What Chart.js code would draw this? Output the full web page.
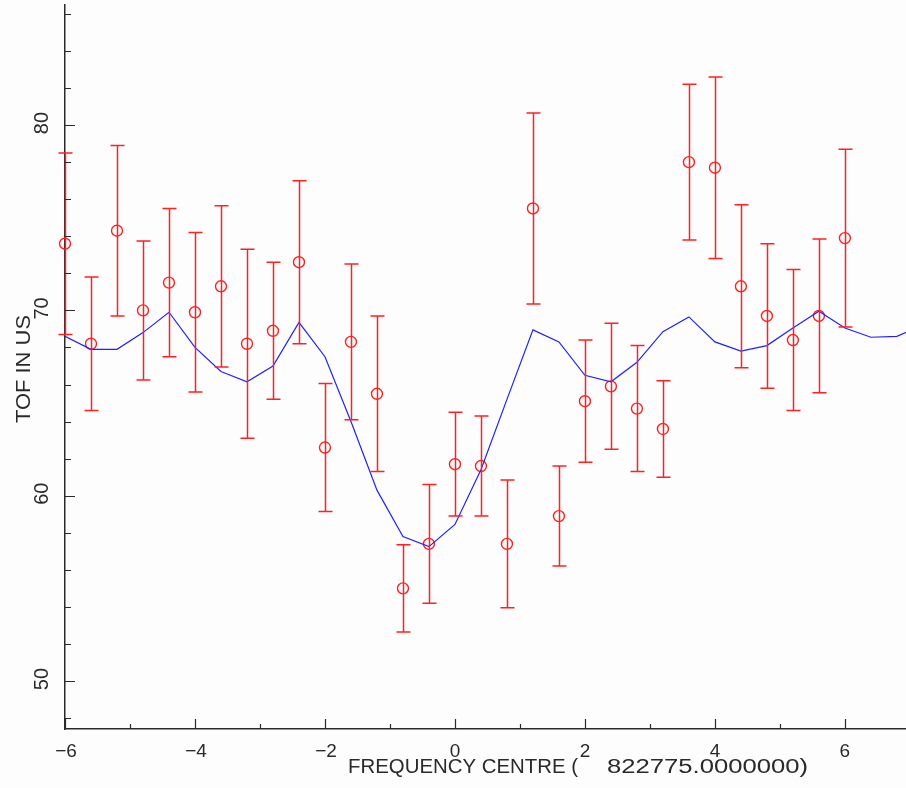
<!DOCTYPE html>
<html>
<head>
<meta charset="utf-8">
<title>TOF vs frequency</title>
<script src="https://cdn.jsdelivr.net/npm/chart.js@4.4.1/dist/chart.umd.min.js"></script>
<style>
  html, body { margin: 0; padding: 0; background: #fdfdfd; }
  #wrap { width: 906px; height: 788px; }
</style>
</head>
<body>
<div id="wrap"><canvas id="tofChart" width="906" height="788"></canvas></div>
<script>
'use strict';

// measured points (frequency offset, TOF, error)
let freq = [-6, -5.6, -5.2, -4.8, -4.4, -4, -3.6, -3.2, -2.8, -2.4, -2, -1.6, -1.2, -0.8, -0.4,
  0, 0.4, 0.8, 1.2, 1.6, 2, 2.4, 2.8, 3.2, 3.6, 4, 4.4, 4.8, 5.2, 5.6, 6];
let tof = [73.6, 68.2, 74.3, 70.0, 71.5, 69.9, 71.3, 68.2, 68.9, 72.6, 62.6, 68.3, 65.5, 55.0, 57.4,
  61.7, 61.6, 57.4, 75.5, 58.9, 65.1, 65.9, 64.7, 63.6, 78.0, 77.7, 71.3, 69.7, 68.4, 69.7, 73.9];
let err = [4.9, 3.6, 4.6, 3.75, 4.0, 4.3, 4.35, 5.1, 3.7, 4.4, 3.45, 4.2, 4.2, 2.35, 3.2,
  2.8, 2.7, 3.45, 5.15, 2.7, 3.3, 3.4, 3.4, 2.6, 4.2, 4.9, 4.4, 3.9, 3.8, 4.15, 4.8];

// fitted curve
let fitX = [-6, -5.6, -5.2, -4.8, -4.4, -4, -3.6, -3.2, -2.8, -2.4, -2, -1.6, -1.2, -0.8, -0.4,
  0, 0.4, 0.8, 1.2, 1.6, 2, 2.4, 2.8, 3.2, 3.6, 4, 4.4, 4.8, 5.2, 5.6, 6, 6.4, 6.8, 7.2];
let fitY = [68.6, 67.9, 67.9, 68.8, 69.9, 68.0, 66.7, 66.15, 67.0, 69.35, 67.5, 64.0, 60.3, 57.8, 57.25,
  58.45, 61.4, 65.2, 68.95, 68.3, 66.5, 66.15, 67.2, 68.85, 69.65, 68.3, 67.8, 68.1, 69.05, 69.95, 69.05, 68.55, 68.6, 69.2];

// axis ticks
let xMajor = [-6, -4, -2, 0, 2, 4, 6];
let xMinor = [-5, -3, -1, 1, 3, 5];
let yMajor = [50, 60, 70, 80];
let yMinor = [48, 52, 54, 56, 58, 62, 64, 66, 68, 72, 74, 76, 78, 82, 84, 86];

const xTitle = 'FREQUENCY CENTRE (';
const xTitle2 = '822775.0000000)';
const yTitle = 'TOF IN US';
const font = '"Liberation Sans", Arial, sans-serif';
const inkColor = '#2a2a2a';

let points = [];
for (let i = 0; i < freq.length; i++) {
  points.push({ x: freq[i], y: tof[i] });
}
let fitLine = [];
for (let i = 0; i < fitX.length; i++) {
  fitLine.push({ x: fitX[i], y: fitY[i] });
}

// draws text squeezed/stretched to a given width, starting at x
function fitText(ctx, text, x, y, width) {
  let w = ctx.measureText(text).width;
  ctx.save();
  ctx.translate(x, y);
  ctx.scale(width / w, 1);
  ctx.fillText(text, 0, 0);
  ctx.restore();
}

// vertical error bars with caps
const errorBars = {
  id: 'errorBars',
  afterDatasetsDraw(chart) {
    const { ctx, scales: { x, y } } = chart;
    ctx.save();
    ctx.strokeStyle = '#ff2020';
    ctx.lineWidth = 1.5;
    for (let i = 0; i < freq.length; i++) {
      let px = Math.round(x.getPixelForValue(freq[i])) + 0.5;
      let top = y.getPixelForValue(tof[i] + err[i]);
      let bot = y.getPixelForValue(tof[i] - err[i]);
      ctx.beginPath();
      ctx.moveTo(px, top);
      ctx.lineTo(px, bot);
      ctx.moveTo(px - 7, top);
      ctx.lineTo(px + 7, top);
      ctx.moveTo(px - 7, bot);
      ctx.lineTo(px + 7, bot);
      ctx.stroke();
    }
    ctx.restore();
  }
};

// inward ticks, rotated y labels and axis titles
const axisDecor = {
  id: 'axisDecor',
  afterDraw(chart) {
    const { ctx, scales: { x, y }, chartArea } = chart;
    const left = chartArea.left;
    const bottom = chartArea.bottom;
    ctx.save();
    ctx.strokeStyle = inkColor;
    ctx.fillStyle = inkColor;
    ctx.lineWidth = 1.2;
    ctx.beginPath();
    yMajor.forEach(v => {
      let py = Math.round(y.getPixelForValue(v)) + 0.5;
      ctx.moveTo(left, py); ctx.lineTo(left + 10, py);
    });
    yMinor.forEach(v => {
      let py = Math.round(y.getPixelForValue(v)) + 0.5;
      ctx.moveTo(left, py); ctx.lineTo(left + 6, py);
    });
    xMajor.forEach(v => {
      let px = Math.round(x.getPixelForValue(v)) + 0.5;
      ctx.moveTo(px, bottom); ctx.lineTo(px, bottom - 10);
    });
    xMinor.forEach(v => {
      let px = Math.round(x.getPixelForValue(v)) + 0.5;
      ctx.moveTo(px, bottom); ctx.lineTo(px, bottom - 5);
    });
    ctx.stroke();

    // y tick labels read bottom to top
    ctx.font = '20px ' + font;
    ctx.textAlign = 'center';
    ctx.textBaseline = 'middle';
    yMajor.forEach(v => {
      let py = y.getPixelForValue(v);
      ctx.save();
      ctx.translate(42, py - 2);
      ctx.rotate(-Math.PI / 2);
      ctx.fillText(String(v), 0, 0);
      ctx.restore();
    });

    // x tick labels
    ctx.font = '19px ' + font;
    ctx.textBaseline = 'alphabetic';
    xMajor.forEach(v => {
      let px = x.getPixelForValue(v);
      let label = v < 0 ? '\u2212' + Math.abs(v) : String(v);
      ctx.fillText(label, px + (v < 0 ? 1 : 0), 757);
    });

    // axis titles
    ctx.font = '20px ' + font;
    ctx.textAlign = 'left';
    fitText(ctx, xTitle, 348, 773, 230);
    fitText(ctx, xTitle2, 607, 773, 201);

    ctx.save();
    ctx.translate(30, 423);
    ctx.rotate(-Math.PI / 2);
    ctx.textBaseline = 'alphabetic';
    fitText(ctx, yTitle, 0, 0, 108);
    ctx.restore();

    ctx.restore();
  }
};

const ctx = document.getElementById('tofChart').getContext('2d');

new Chart(ctx, {
  type: 'scatter',
  data: {
    datasets: [
      {
        label: 'fit',
        data: fitLine,
        showLine: true,
        borderColor: '#2020ff',
        borderWidth: 1.2,
        pointRadius: 0,
        tension: 0,
        fill: false
      },
      {
        label: 'TOF',
        data: points,
        showLine: false,
        pointStyle: 'circle',
        pointRadius: 5.5,
        borderColor: '#ff2020',
        backgroundColor: 'rgba(0,0,0,0)',
        pointBorderWidth: 1.4,
        clip: false
      }
    ]
  },
  options: {
    responsive: false,
    animation: false,
    events: [],
    layout: { autoPadding: false, padding: { top: 5, right: 0, left: 0, bottom: 0 } },
    plugins: {
      legend: { display: false },
      tooltip: { enabled: false }
    },
    scales: {
      x: {
        type: 'linear',
        min: -6,
        max: 6.94,
        afterFit(scale) { scale.height = 59; },
        ticks: { display: false },
        grid: { display: true, drawOnChartArea: false, drawTicks: false },
        border: { display: true, color: inkColor, width: 1.5 }
      },
      y: {
        type: 'linear',
        min: 47.41,
        max: 86.48,
        afterFit(scale) { scale.width = 65; },
        ticks: { display: false },
        grid: { display: true, drawOnChartArea: false, drawTicks: false },
        border: { display: true, color: inkColor, width: 1.5 }
      }
    }
  },
  plugins: [errorBars, axisDecor]
});
</script>
</body>
</html>
